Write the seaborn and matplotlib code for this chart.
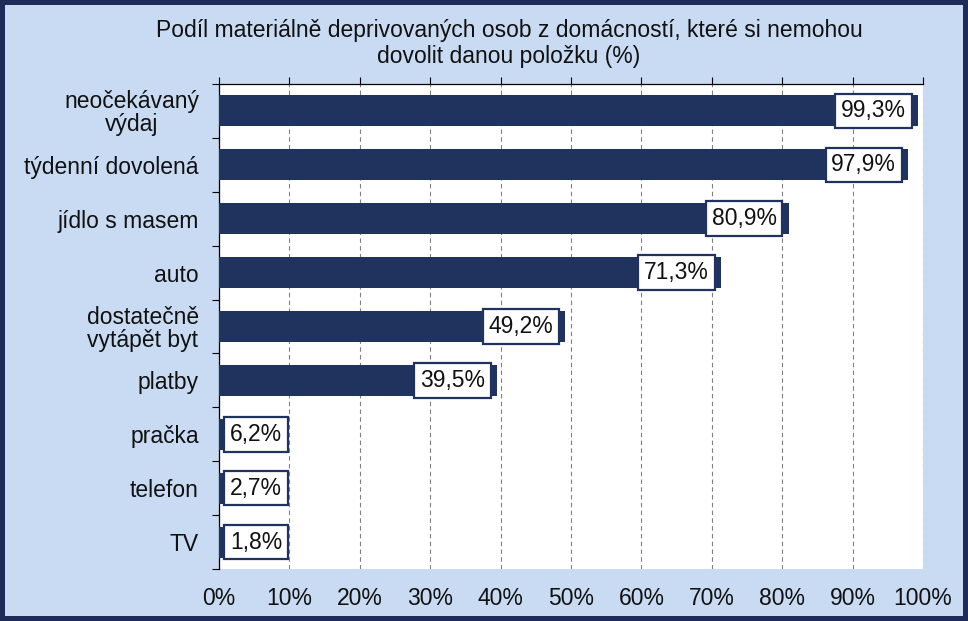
import matplotlib
matplotlib.use("Agg")
import matplotlib.pyplot as plt
import seaborn as sns
import pandas as pd
from matplotlib.patches import Rectangle
from matplotlib.ticker import FixedLocator, FuncFormatter

categories = ["neočekávaný\nvýdaj", "týdenní dovolená", "jídlo s masem", "auto",
              "dostatečně\nvytápět byt", "platby", "pračka", "telefon", "TV"]
values = [99.3, 97.9, 80.9, 71.3, 49.2, 39.5, 6.2, 2.7, 1.8]
value_labels = ["99,3%", "97,9%", "80,9%", "71,3%", "49,2%", "39,5%", "6,2%", "2,7%", "1,8%"]
x_ticks = [0, 10, 20, 30, 40, 50, 60, 70, 80, 90, 100]
title_lines = ["Podíl materiálně deprivovaných osob z domácností, které si nemohou",
               "dovolit danou položku (%)"]

sns.set_style("white")
plt.rcParams['font.family'] = ['Liberation Sans', 'DejaVu Sans']

BG = "#C8DBF2"
NAVY = "#1F335E"
BORDER = "#1E2A58"
FS = 16.5

df = pd.DataFrame({"cat": categories, "val": values})

fig = plt.figure(figsize=(9.68, 6.21), dpi=100, facecolor=BG)
ax = fig.add_axes([219/968, 1 - 569/621, (923-219)/968, (569-84)/621])
ax.set_facecolor("white")

sns.barplot(data=df, x="val", y="cat", orient="h", color=NAVY, width=0.575,
            saturation=1, ax=ax, zorder=3, linewidth=0)

ax.set_xlim(0, 100)
ax.set_ylim(8.5, -0.5)
ax.set_xlabel("")
ax.set_ylabel("")

ax.xaxis.set_major_locator(FixedLocator(x_ticks))
ax.xaxis.set_major_formatter(FuncFormatter(lambda v, p: f"{int(v)}%"))
ax.tick_params(axis="x", top=True, bottom=False, labeltop=False, labelbottom=True,
               direction="out", length=5, width=0.8, color="black", pad=8,
               labelsize=FS, labelcolor="#111111")
ax.grid(axis="x", linestyle=(0, (4, 3)), color="#808080", linewidth=0.8, zorder=0)
ax.set_axisbelow(True)

ax.yaxis.set_minor_locator(FixedLocator([i - 0.5 for i in range(len(categories) + 1)]))
ax.tick_params(axis="y", which="major", length=0, pad=14.5, labelsize=FS, labelcolor="#111111")
ax.tick_params(axis="y", which="minor", left=True, length=5, width=0.8, color="black", direction="out")
for lab in ax.get_yticklabels():
    lab.set_multialignment("center")
    lab.set_linespacing(1.0)

for s in ["bottom", "right"]:
    ax.spines[s].set_visible(False)
for s in ["top", "left"]:
    ax.spines[s].set_visible(True)
    ax.spines[s].set_color("black")
    ax.spines[s].set_linewidth(0.9)

bbox = dict(boxstyle="square,pad=0.25", fc="white", ec=NAVY, lw=1.6)
for i, (v, lab) in enumerate(zip(values, value_labels)):
    if v >= 10:
        ax.annotate(lab, xy=(v, i), xytext=(-12, 0), textcoords="offset pixels",
                    ha="right", va="center", fontsize=FS, bbox=bbox, zorder=5,
                    color="#111111")
    else:
        ax.annotate(lab, xy=(0, i), xytext=(11, 0), textcoords="offset pixels",
                    ha="left", va="center", fontsize=FS, bbox=bbox, zorder=5,
                    color="#111111")

fig.text(509/968, 1 - 31/621, title_lines[0], ha="center", va="center", fontsize=FS, color="#111111")
fig.text(509/968, 1 - 57/621, title_lines[1], ha="center", va="center", fontsize=FS, color="#111111")

fig.patches.append(Rectangle((0, 0), 1, 1, transform=fig.transFigure, fill=False,
                             ec=BORDER, lw=7.2, zorder=10))

fig.savefig("out.png", dpi=100, facecolor=BG)
